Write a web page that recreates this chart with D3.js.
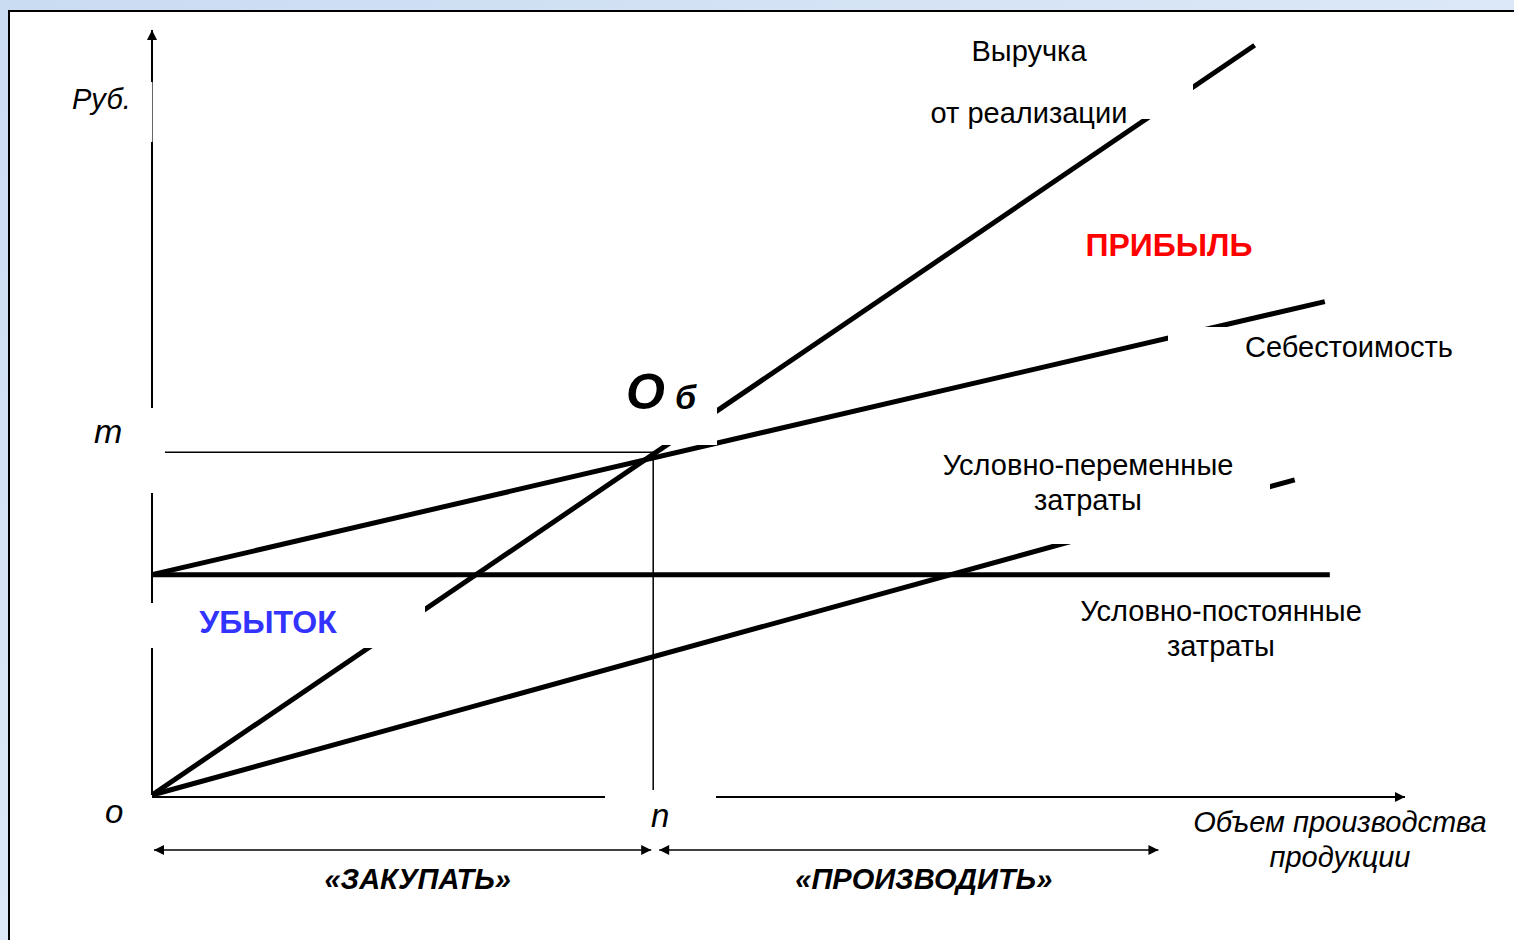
<!doctype html>
<html>
<head>
<meta charset="utf-8">
<title>Точка безубыточности</title>
<style>
  html, body { margin: 0; padding: 0; overflow: hidden; }
  body { width: 1514px; height: 940px; }
  text { font-family: Arial, "Liberation Sans", sans-serif; fill: #000; }
  .lbl { font-size: 29px; }
  .it { font-style: italic; }
  .narrow { font-family: "Liberation Sans Narrow", "Arial Narrow", Arial, sans-serif; font-weight: bold; font-style: italic; }
</style>
</head>
<body>
<svg id="chart" width="1514" height="940"></svg>
<script src="https://cdn.jsdelivr.net/npm/d3@7"></script>
<script>
// line endpoints in chart units (volume, roubles)
var revenue  = [[0, 0], [110, 98]];
var cost     = [[0, 28.8], [117, 64.5]];
var fixed    = [[0, 28.8], [117.5, 28.8]];
var variable = [[0, 0], [114, 41.2]];
var breakEven = {n: 50, m: 44.8};
var zones = [
  {name: "«ЗАКУПАТЬ»", from: 0, to: 50},
  {name: "«ПРОИЗВОДИТЬ»", from: 50.4, to: 100.6}
];

var svg = d3.select("#chart");

var x = d3.scaleLinear().domain([0, 125]).range([152, 1405]);
var y = d3.scaleLinear().domain([0, 100]).range([795, 30]);

// background
var defs = svg.append("defs");
var grad = defs.append("linearGradient").attr("id", "bg")
  .attr("x1", 0).attr("y1", 0).attr("x2", 1).attr("y2", 1);
grad.append("stop").attr("offset", 0).attr("stop-color", "#cadcf2");
grad.append("stop").attr("offset", 0.5).attr("stop-color", "#dce8f7");
grad.append("stop").attr("offset", 1).attr("stop-color", "#c6daf1");

defs.append("marker").attr("id", "arrBig")
  .attr("viewBox", "0 0 10 10").attr("refX", 10).attr("refY", 5)
  .attr("markerWidth", 13).attr("markerHeight", 10)
  .attr("markerUnits", "userSpaceOnUse")
  .attr("orient", "auto-start-reverse")
  .append("path").attr("d", "M0,0L10,5L0,10z").attr("fill", "#000");

svg.append("rect").attr("width", 1514).attr("height", 940).attr("fill", "url(#bg)");
svg.append("rect").attr("x", 9).attr("y", 11).attr("width", 1520).attr("height", 940)
  .attr("fill", "#fff").attr("stroke", "#000").attr("stroke-width", 2);

// axes
svg.append("line")
  .attr("x1", x(0)).attr("y1", y(0)).attr("x2", x(0)).attr("y2", y(100))
  .attr("stroke", "#000").attr("stroke-width", 2).attr("marker-end", "url(#arrBig)");
svg.append("line")
  .attr("x1", x(0)).attr("y1", y(0) + 2).attr("x2", x(125)).attr("y2", y(0) + 2)
  .attr("stroke", "#000").attr("stroke-width", 2).attr("marker-end", "url(#arrBig)");

// break-even guides
svg.append("line")
  .attr("x1", x(0)).attr("y1", y(breakEven.m)).attr("x2", x(breakEven.n)).attr("y2", y(breakEven.m))
  .attr("stroke", "#000").attr("stroke-width", 1.5);
svg.append("line")
  .attr("x1", x(breakEven.n)).attr("y1", y(breakEven.m)).attr("x2", x(breakEven.n)).attr("y2", y(0) - 5)
  .attr("stroke", "#000").attr("stroke-width", 1.5);

// main lines
var line = d3.line().x(function(d) { return x(d[0]); }).y(function(d) { return y(d[1]); });
[fixed, variable, cost, revenue].forEach(function(s) {
  svg.append("path").attr("d", line(s))
    .attr("fill", "none").attr("stroke", "#000").attr("stroke-width", 5);
});

// white label boxes (they cut the lines, as in the slide)
var boxes = [
  [60, 82, 92, 60],      // Руб.
  [60, 408, 105, 85],    // m
  [148, 603, 277, 45],   // УБЫТОК
  [618, 358, 99, 87],    // Об
  [920, 25, 273, 94],    // Выручка
  [1168, 327, 300, 48],  // Себестоимость
  [935, 445, 335, 99],   // Условно-переменные
  [605, 790, 111, 50]    // n
];
svg.selectAll("rect.box").data(boxes).enter().append("rect")
  .attr("class", "box")
  .attr("x", function(d) { return d[0]; }).attr("y", function(d) { return d[1]; })
  .attr("width", function(d) { return d[2]; }).attr("height", function(d) { return d[3]; })
  .attr("fill", "#fff");
// thin remnant of y axis behind "Руб."
svg.append("line").attr("x1", x(0) + 0.5).attr("x2", x(0) + 0.5).attr("y1", 82).attr("y2", 142)
  .attr("stroke", "#666").attr("stroke-width", 1);

// zone arrows
zones.forEach(function(z) {
  svg.append("line")
    .attr("x1", x(z.from) + 2).attr("x2", x(z.to) - 2).attr("y1", 850).attr("y2", 850)
    .attr("stroke", "#000").attr("stroke-width", 1.5)
    .attr("marker-start", "url(#arrBig)").attr("marker-end", "url(#arrBig)");
  svg.append("text").attr("class", "narrow")
    .attr("x", (x(z.from) + x(z.to)) / 2 + 15).attr("y", 889)
    .attr("text-anchor", "middle").style("font-size", "29px")
    .text(z.name);
});

// labels
function label(tx, ty, s, cls, anchor, size) {
  return svg.append("text").attr("class", cls || "lbl")
    .attr("x", tx).attr("y", ty)
    .attr("text-anchor", anchor || "start")
    .style("font-size", (size || 29) + "px")
    .text(s);
}
label(72, 109, "Руб.", "lbl it", "start", 29);
label(94, 443, "m", "lbl it", "start", 34);
label(105, 823, "o", "lbl it", "start", 33);
label(651, 827, "n", "lbl it", "start", 33);

var ob = svg.append("text").attr("x", 626).attr("y", 409).style("font-weight", "bold").style("font-style", "italic");
ob.append("tspan").style("font-size", "50px").text("О");
ob.append("tspan").attr("dx", 10).style("font-size", "34px").text("б");

label(1029, 61, "Выручка", "lbl", "middle");
label(1029, 123, "от реализации", "lbl", "middle");
label(1349, 357, "Себестоимость", "lbl", "middle");
label(1088, 475, "Условно-переменные", "lbl", "middle");
label(1088, 510, "затраты", "lbl", "middle");
label(1221, 621, "Условно-постоянные", "lbl", "middle");
label(1221, 656, "затраты", "lbl", "middle");
label(1340, 832, "Объем производства", "lbl it", "middle");
label(1340, 867, "продукции", "lbl it", "middle");

label(1169, 256, "ПРИБЫЛЬ", "lbl", "middle", 32).style("font-weight", "bold").style("fill", "#ff0000");
label(268, 633, "УБЫТОК", "lbl", "middle", 32).style("font-weight", "bold").style("fill", "#3333ff");
</script>
</body>
</html>
